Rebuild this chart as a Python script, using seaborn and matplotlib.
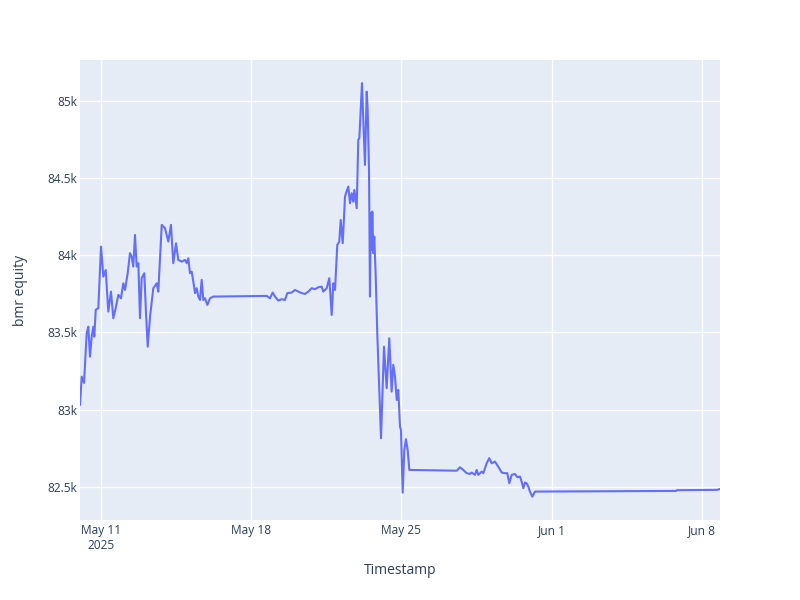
import pandas as pd
import matplotlib.pyplot as plt
import seaborn as sns

# -------------------------------
# Data
# -------------------------------

timestamps = [
    "2025-05-10 00:30", "2025-05-10 02:25", "2025-05-10 05:00", "2025-05-10 08:00",
    "2025-05-10 09:50", "2025-05-10 11:40", "2025-05-10 13:35", "2025-05-10 15:25",
    "2025-05-10 16:30", "2025-05-10 18:05", "2025-05-10 21:00", "2025-05-11 00:00",
    "2025-05-11 02:35", "2025-05-11 05:15", "2025-05-11 08:10", "2025-05-11 11:10",
    "2025-05-11 13:45", "2025-05-11 16:25", "2025-05-11 19:20", "2025-05-11 22:20",
    "2025-05-12 00:55", "2025-05-12 02:50", "2025-05-12 05:50", "2025-05-12 08:25",
    "2025-05-12 10:20", "2025-05-12 12:05", "2025-05-12 14:00", "2025-05-12 15:55",
    "2025-05-12 17:45", "2025-05-12 19:35", "2025-05-12 21:30", "2025-05-13 00:25",
    "2025-05-13 02:20", "2025-05-13 04:15", "2025-05-13 06:50", "2025-05-13 10:30",
    "2025-05-13 14:20", "2025-05-13 16:05", "2025-05-13 19:55", "2025-05-13 23:35",
    "2025-05-14 03:15", "2025-05-14 06:15", "2025-05-14 08:50", "2025-05-14 11:55",
    "2025-05-14 14:25", "2025-05-14 18:15", "2025-05-14 21:55", "2025-05-14 23:50",
    "2025-05-15 01:40", "2025-05-15 03:30", "2025-05-15 05:25", "2025-05-15 07:15",
    "2025-05-15 09:10", "2025-05-15 11:00", "2025-05-15 12:50", "2025-05-15 14:45",
    "2025-05-15 16:35", "2025-05-15 18:25", "2025-05-15 20:20", "2025-05-15 22:55",
    "2025-05-16 01:55", "2025-05-16 05:35", "2025-05-18 17:20", "2025-05-18 21:00",
    "2025-05-19 00:00", "2025-05-19 02:35", "2025-05-19 06:15", "2025-05-19 10:05",
    "2025-05-19 13:45", "2025-05-19 16:20", "2025-05-19 21:15", "2025-05-20 01:00",
    "2025-05-20 04:40", "2025-05-20 08:30", "2025-05-20 12:10", "2025-05-20 15:50",
    "2025-05-20 19:40", "2025-05-20 23:20", "2025-05-21 03:00", "2025-05-21 06:50",
    "2025-05-21 08:35", "2025-05-21 12:25", "2025-05-21 15:20", "2025-05-21 18:00",
    "2025-05-21 19:50", "2025-05-21 21:45", "2025-05-22 00:15", "2025-05-22 02:30",
    "2025-05-22 04:05", "2025-05-22 06:20", "2025-05-22 08:55", "2025-05-22 10:00",
    "2025-05-22 12:35", "2025-05-22 14:30", "2025-05-22 16:25", "2025-05-22 18:10",
    "2025-05-22 19:20", "2025-05-22 22:00", "2025-05-22 23:45", "2025-05-23 00:55",
    "2025-05-23 02:25", "2025-05-23 03:55", "2025-05-23 05:20", "2025-05-23 07:15",
    "2025-05-23 09:10", "2025-05-23 10:15", "2025-05-23 11:45", "2025-05-23 12:50",
    "2025-05-23 13:40", "2025-05-23 14:45", "2025-05-23 15:25", "2025-05-23 16:30",
    "2025-05-23 17:40", "2025-05-23 19:15", "2025-05-23 21:00", "2025-05-24 01:10",
    "2025-05-24 04:30", "2025-05-24 07:30", "2025-05-24 10:25", "2025-05-24 13:05",
    "2025-05-24 14:55", "2025-05-24 16:50", "2025-05-24 18:45", "2025-05-24 20:30",
    "2025-05-24 22:25", "2025-05-24 23:30", "2025-05-25 01:25", "2025-05-25 03:15",
    "2025-05-25 05:05", "2025-05-25 07:00", "2025-05-25 08:50", "2025-05-27 13:50",
    "2025-05-27 17:30", "2025-05-27 21:10", "2025-05-28 01:00", "2025-05-28 04:40",
    "2025-05-28 06:35", "2025-05-28 10:15", "2025-05-28 12:10", "2025-05-28 14:00",
    "2025-05-28 17:45", "2025-05-28 19:35", "2025-05-28 21:30", "2025-05-28 23:20",
    "2025-05-29 02:15", "2025-05-29 05:00", "2025-05-29 08:40", "2025-05-29 12:20",
    "2025-05-29 16:10", "2025-05-29 19:50", "2025-05-29 22:25", "2025-05-30 00:40",
    "2025-05-30 03:20", "2025-05-30 07:00", "2025-05-30 09:35", "2025-05-30 12:35",
    "2025-05-30 14:30", "2025-05-30 16:20", "2025-05-30 18:10", "2025-05-30 20:05",
    "2025-05-30 21:55", "2025-05-30 23:45", "2025-05-31 02:20", "2025-05-31 05:25",
    "2025-06-06 19:05", "2025-06-06 20:10", "2025-06-08 17:05", "2025-06-08 20:20",
]

equity = [
    83030, 83214, 83173, 83497, 83537, 83343, 83473, 83537,
    83473, 83646, 83657, 84055, 83861, 83904, 83635, 83764,
    83592, 83657, 83743, 83721, 83818, 83775, 83883, 84013,
    83990, 83926, 84131, 83926, 83948, 83592, 83851, 83883,
    83624, 83408, 83602, 83786, 83818, 83764, 84196, 84174,
    84088, 84196, 83948, 84077, 83969, 83958, 83969, 83948,
    83980, 83883, 83893, 83829, 83754, 83786, 83732, 83710,
    83840, 83710, 83721, 83678, 83721, 83732, 83736, 83721,
    83758, 83732, 83706, 83715, 83710, 83754, 83758, 83775,
    83764, 83754, 83749, 83764, 83786, 83780, 83792, 83796,
    83764, 83786, 83851, 83613, 83818, 83775, 84066, 84088,
    84228, 84077, 84379, 84401, 84444, 84336, 84401, 84346,
    84422, 84304, 84746, 84757, 84940, 85113, 84875, 84584,
    85058, 84940, 84552, 83732, 84271, 84034, 84282, 84013,
    84120, 83861, 83495, 82815, 83408, 83139, 83462, 83117,
    83290, 83214, 83063, 83128, 82890, 82869, 82463, 82739,
    82809, 82739, 82610, 82605, 82627, 82610, 82589, 82584,
    82593, 82578, 82610, 82578, 82599, 82589, 82621, 82653,
    82686, 82653, 82664, 82631, 82593, 82589, 82589, 82524,
    82578, 82584, 82563, 82567, 82534, 82492, 82528, 82524,
    82502, 82470, 82437, 82470, 82474, 82479, 82481, 82487,
]

x_ticks = ["2025-05-11", "2025-05-18", "2025-05-25", "2025-06-01", "2025-06-08"]
x_tick_labels = ["May 11\n2025", "May 18", "May 25", "Jun 1", "Jun 8"]
y_ticks = [82500, 83000, 83500, 84000, 84500, 85000]
y_tick_labels = ["82.5k", "83k", "83.5k", "84k", "84.5k", "85k"]

df = pd.DataFrame({"Timestamp": pd.to_datetime(timestamps), "bmr equity": equity})

# -------------------------------
# Style (plotly-like)
# -------------------------------

sns.set_theme(style="darkgrid", rc={
    "axes.facecolor": "#E5ECF6",
    "figure.facecolor": "white",
    "grid.color": "white",
    "grid.linewidth": 1.0,
    "axes.edgecolor": "#E5ECF6",
})
plt.rcParams["font.family"] = ["Open Sans", "DejaVu Sans"]

text_color = "#2a3f5f"

fig = plt.figure(figsize=(8, 6), dpi=100)
ax = fig.add_axes([0.1, 80 / 600, 0.8, 460 / 600])

sns.lineplot(data=df, x="Timestamp", y="bmr equity", ax=ax,
             color="#636EFA", linewidth=1.5)

ax.set_xlim(df["Timestamp"].min(), df["Timestamp"].max())
ax.set_ylim(82286, 85263)

ax.set_xticks(pd.to_datetime(x_ticks))
ax.set_xticklabels(x_tick_labels, multialignment="center")
ax.set_yticks(y_ticks)
ax.set_yticklabels(y_tick_labels)

ax.tick_params(axis="both", length=0, labelsize=8.6, colors=text_color)
ax.tick_params(axis="x", pad=3)
ax.tick_params(axis="y", pad=2)

for s in ax.spines.values():
    s.set_visible(False)

ax.set_xlabel("Timestamp", fontsize=10, color=text_color)
ax.set_ylabel("bmr equity", fontsize=10, color=text_color)
ax.xaxis.set_label_coords(0.5, -0.094)
ax.yaxis.set_label_coords(-0.082, 0.5)

fig.savefig("out.png", dpi=100)
